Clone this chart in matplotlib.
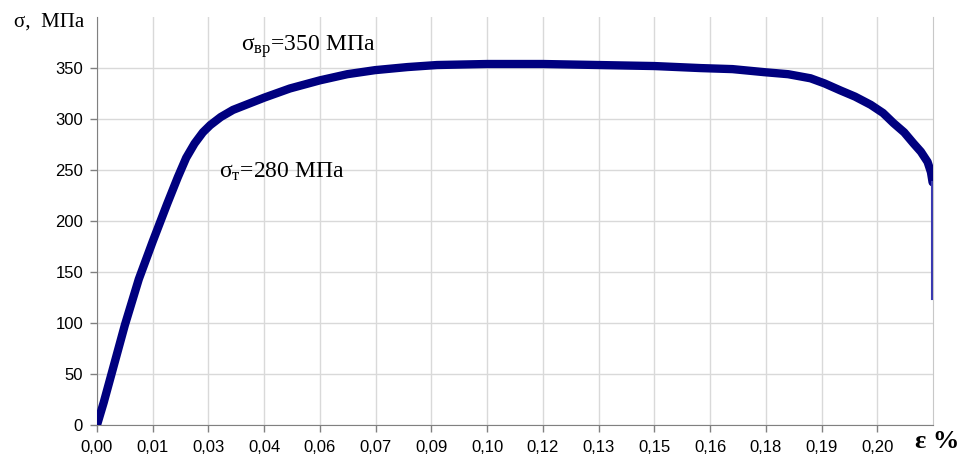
import matplotlib
matplotlib.use("Agg")
import matplotlib.pyplot as plt

# Tick labels on the strain axis (evenly spaced categories, as in the spreadsheet)
x_labels = ["0,00", "0,01", "0,03", "0,04", "0,06", "0,07", "0,09", "0,10",
            "0,12", "0,13", "0,15", "0,16", "0,18", "0,19", "0,20"]
y_ticks = [0, 50, 100, 150, 200, 250, 300, 350]

# Stress-strain curve, x in tick-index units (0 = "0,00", 14 = "0,20")
strain = [0.0, 0.12, 0.25, 0.50, 0.75, 1.0, 1.26, 1.45, 1.60, 1.75, 1.90,
          2.03, 2.22, 2.44, 2.72, 3.0, 3.46, 4.0, 4.49, 4.99, 5.57, 6.1,
          7.0, 8.0, 9.0, 10.0, 10.83, 11.4, 11.97, 12.4, 12.8, 13.05, 13.34,
          13.6, 13.88, 14.1, 14.29, 14.48, 14.65, 14.78, 14.9, 14.96, 14.99]
stress = [0, 22, 48, 98, 143, 180, 217, 243, 262, 276, 287,
          294, 302, 309, 315, 321, 330, 338, 344, 348, 351, 353,
          354, 354, 353, 352, 350, 349, 346, 344, 340, 335, 328,
          322, 314, 306, 296, 287, 276, 268, 258, 248, 238]

# thin tail after the fracture
tail_strain = [14.98, 14.98]
tail_stress = [238, 124]

plt.rcParams["font.family"] = ["Liberation Sans", "DejaVu Sans"]
plt.rcParams["mathtext.fontset"] = "custom"
plt.rcParams["mathtext.rm"] = "Liberation Serif"
plt.rcParams["mathtext.it"] = "Liberation Serif"

fig = plt.figure(figsize=(9.65, 4.62), dpi=100)
ax = fig.add_axes([0.1005, 0.080, 0.8665, 0.883])

ax.plot(strain, stress, color="#00007f", lw=6, solid_capstyle="round",
        solid_joinstyle="round", zorder=3)
ax.plot(tail_strain, tail_stress, color="#3a3ab0", lw=1.5, zorder=3)

ax.set_xlim(0, 15)
ax.set_ylim(0, 400)
ax.set_xticks(range(len(x_labels)))
ax.set_xticklabels(x_labels, fontsize=12)
ax.set_yticks(y_ticks)
ax.set_yticklabels([str(v) for v in y_ticks], fontsize=12)

ax.grid(True, color="#d9d9d9", lw=1)
ax.set_axisbelow(True)
ax.spines["top"].set_visible(False)
ax.spines["right"].set_color("#c8c8c8")
ax.spines["left"].set_color("#808080")
ax.spines["bottom"].set_color("#808080")
ax.tick_params(axis="both", color="#808080", length=5, width=1)
ax.tick_params(axis="x", pad=6)
ax.tick_params(axis="y", pad=5)

serif = ["Liberation Serif", "DejaVu Serif"]
fig.text(0.014, 0.952, "σ,  МПа", family=serif, fontsize=15, va="center")
ax.text(2.58, 371, r"σ$_{\mathrm{вр}}$=350 МПа", family=serif,
        fontsize=17, va="center", ha="left")
ax.text(2.18, 248, r"σ$_{\mathrm{т}}$=280 МПа", family=serif,
        fontsize=17, va="center", ha="left")
fig.text(0.948, 0.045, "ε %", family=serif, fontsize=19,
         fontweight="bold", va="center", ha="left")

fig.savefig("out.png", dpi=100)
